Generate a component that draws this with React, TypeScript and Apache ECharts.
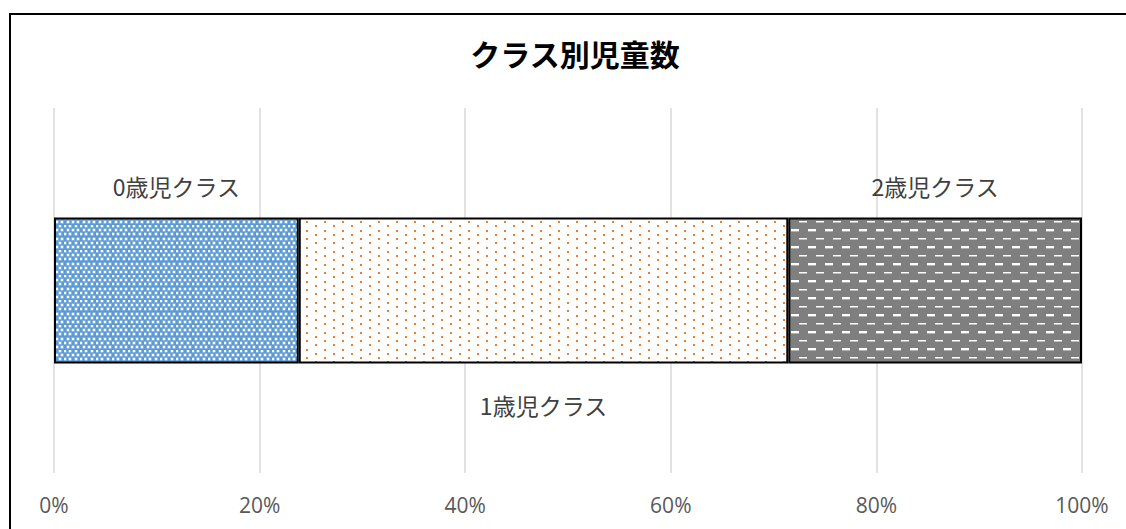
import React, { useEffect, useRef } from 'react';
import * as echarts from 'echarts';

const chartTitle = 'クラス別児童数';
const classes = ['0歳児クラス', '1歳児クラス', '2歳児クラス'];
const counts = [5, 10, 6];
const categoryLabels = ['児童数'];

type Drawer = (ctx: CanvasRenderingContext2D) => void;

function makePattern(w: number, h: number, bg: string, draw: Drawer) {
  const c = document.createElement('canvas');
  c.width = w;
  c.height = h;
  const ctx = c.getContext('2d') as CanvasRenderingContext2D;
  ctx.fillStyle = bg;
  ctx.fillRect(0, 0, w, h);
  draw(ctx);
  return { image: c, repeat: 'repeat', imageWidth: w, imageHeight: h } as any;
}

export default function App() {
  const ref = useRef<HTMLDivElement>(null);

  useEffect(() => {
    document.body.style.margin = '0';
    if (!ref.current) return;
    const chart = echarts.init(ref.current, null, { renderer: 'svg' });

    // blue: dense staggered white dots
    const bluePattern = makePattern(16, 25, '#5B9BD5', (ctx) => {
      const rows = [0, 4, 8, 13, 17, 21];
      rows.forEach((y, r) => {
        const xs = r % 2 === 0 ? [0, 5, 11] : [3, 8, 13];
        xs.forEach((x) => {
          ctx.fillStyle = 'rgba(255,255,255,0.55)';
          ctx.fillRect(x - 0.5, y - 0.5, 3, 3);
          ctx.fillStyle = '#ffffff';
          ctx.fillRect(x, y, 2, 2);
        });
      });
    });
    // orange: sparse staggered orange dots on white
    const orangePattern = makePattern(18, 17, '#ffffff', (ctx) => {
      ctx.fillStyle = '#ED7D31';
      [[0, 0], [0, 9], [9, 4], [9, 13]].forEach(([x, y]) => ctx.fillRect(x, y, 2, 2));
    });
    // gray: staggered white horizontal dashes
    const grayPattern = makePattern(17, 17, '#7F7F7F', (ctx) => {
      ctx.fillStyle = '#ffffff';
      ctx.fillRect(0, 0, 8, 1);
      ctx.fillStyle = '#bdbdbd';
      ctx.fillRect(0, 1, 8, 1);
      ctx.fillStyle = '#ffffff';
      ctx.fillRect(9, 8, 8, 2);
      ctx.fillStyle = '#b0b0b0';
      ctx.fillRect(9, 10, 8, 1);
    });
    const fills = [bluePattern, orangePattern, grayPattern];
    const labelPos = ['top', 'bottom', 'top'];
    const labelDist = [20, 30, 20];

    const total = counts.reduce((a, b) => a + b, 0);

    const option: any = {
      animation: false,
      title: {
        text: chartTitle,
        left: 570,
        top: 33,
        textAlign: 'center',
        textStyle: {
          fontFamily: 'Noto Sans CJK JP',
          fontSize: 30,
          fontWeight: 'bold',
          color: '#000000',
        },
      },
      grid: { left: 54, right: 44, top: 108, bottom: 56 },
      xAxis: {
        type: 'value',
        min: 0,
        max: 100,
        interval: 20,
        axisLine: { show: false },
        axisTick: { show: false },
        splitLine: { show: true, lineStyle: { color: '#d9d9d9', width: 1.5 } },
        axisLabel: {
          formatter: '{value}%',
          fontFamily: 'Open Sans',
          fontSize: 21,
          color: '#595959',
          margin: 21,
        },
      },
      yAxis: {
        type: 'category',
        data: categoryLabels,
        axisLine: { show: false },
        axisTick: { show: false },
        axisLabel: { show: false },
        splitLine: { show: false },
      },
      series: classes.map((name, i) => ({
        name,
        type: 'bar',
        stack: 'total',
        barWidth: 146,
        data: [(counts[i] / total) * 100],
        itemStyle: { color: fills[i], borderColor: '#000000', borderWidth: 2 },
        label: {
          show: true,
          position: labelPos[i],
          distance: labelDist[i],
          formatter: name,
          fontFamily: 'Noto Sans CJK JP',
          fontSize: 23,
          color: '#404040',
        },
      })),
      graphic: [
        {
          type: 'rect',
          shape: { x: 10, y: 14, width: 1300, height: 700 },
          style: { fill: 'none', stroke: '#000000', lineWidth: 2 },
          silent: true,
        },
      ],
    };

    chart.setOption(option);
    return () => chart.dispose();
  }, []);

  return <div ref={ref} style={{ width: 1126, height: 529 }} />;
}
